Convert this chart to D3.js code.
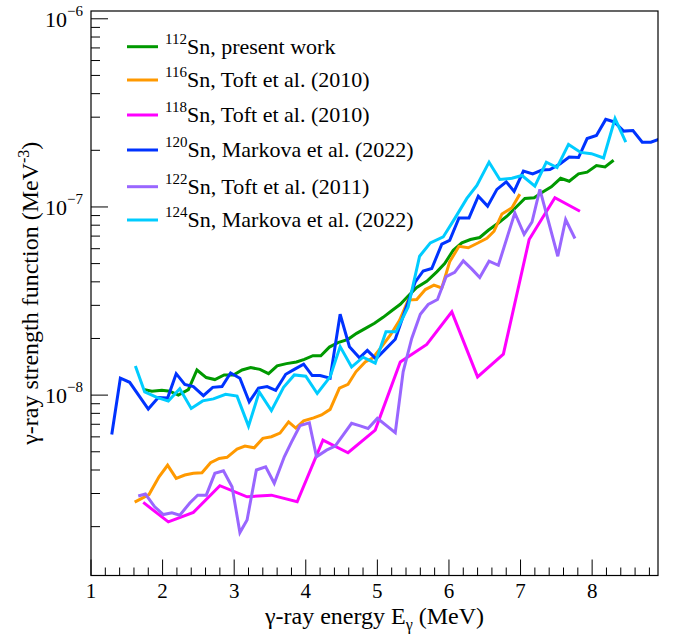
<!DOCTYPE html>
<html><head><meta charset="utf-8">
<script src="https://cdn.jsdelivr.net/npm/d3@7"></script>
<style>
html,body{margin:0;padding:0;background:#fff;}
</style></head>
<body><div id="chart"></div>
<script>
// ---- data (strength values in units of 1e-8 MeV^-3) ----
const unit = 1e-8;
const e112 = [1.75,1.85,1.99,2.10,2.22,2.36,2.48,2.61,2.73,2.86,2.99,3.11,3.23,3.36,3.48,3.60,3.73,3.87,3.98,4.10,4.21,4.33,4.45,4.59,4.71,4.84,4.96,5.08,5.20,5.32,5.43,5.55,5.69,5.83,5.94,6.06,6.18,6.30,6.43,6.55,6.69,6.81,6.94,7.06,7.19,7.31,7.43,7.56,7.68,7.81,7.93,8.06,8.18,8.30];
const f112 = [1.07,1.05,1.06,1.05,1.00,1.07,1.36,1.24,1.21,1.28,1.28,1.36,1.40,1.37,1.30,1.43,1.47,1.50,1.55,1.62,1.62,1.80,1.90,1.98,2.13,2.27,2.41,2.59,2.81,3.04,3.36,3.73,4.03,4.52,5.00,5.89,6.44,6.71,6.88,7.52,8.22,8.93,10.0,11.1,11.2,12.0,12.8,14.2,13.7,15.0,15.3,16.6,16.3,17.7];

const e116 = [1.61,1.81,1.95,2.07,2.19,2.31,2.43,2.55,2.67,2.79,2.90,3.04,3.15,3.28,3.40,3.52,3.64,3.76,3.86,3.97,4.11,4.22,4.34,4.47,4.59,4.70,4.83,4.94,5.06,5.18,5.31,5.43,5.55,5.67,5.79,5.90,6.01,6.14,6.27,6.41,6.53,6.63,6.74,6.88,6.99];
const f116 = [0.270,0.296,0.368,0.424,0.361,0.376,0.384,0.387,0.437,0.461,0.467,0.517,0.536,0.525,0.589,0.601,0.628,0.721,0.668,0.730,0.757,0.785,0.840,1.09,1.14,1.33,1.50,1.58,1.81,2.08,2.50,3.20,3.22,3.64,3.84,3.71,5.11,6.18,6.07,6.45,6.82,7.43,9.18,9.91,11.7];

const e118 = [1.73,2.08,2.43,2.80,3.18,3.52,3.88,4.24,4.59,4.97,5.32,5.69,6.04,6.40,6.76,7.12,7.48,7.83];
const f118 = [0.269,0.212,0.238,0.330,0.288,0.294,0.271,0.577,0.494,0.652,1.50,1.86,2.77,1.25,1.65,6.71,11.2,9.49];

const e120 = [1.29,1.41,1.54,1.80,1.94,2.07,2.19,2.31,2.43,2.57,2.70,2.83,2.95,3.08,3.21,3.34,3.46,3.58,3.72,3.84,3.97,4.09,4.20,4.34,4.48,4.61,4.75,4.86,4.98,5.11,5.25,5.39,5.53,5.64,5.76,5.90,6.01,6.14,6.28,6.41,6.54,6.67,6.80,6.91,7.04,7.17,7.30,7.41,7.55,7.68,7.81,7.93,8.06,8.19,8.31,8.44,8.57,8.70,8.82,8.95];
const f120 = [0.618,1.23,1.17,0.843,0.970,0.964,1.30,1.14,1.11,0.994,1.10,1.11,1.31,1.23,0.921,1.09,1.11,1.06,1.29,1.37,1.46,1.27,1.27,1.23,2.69,1.81,1.58,1.73,1.56,1.75,1.98,2.83,4.00,4.57,4.71,6.34,6.65,8.74,8.74,11.4,10.1,12.4,13.6,12.1,15.5,15.0,15.7,15.8,16.9,18.4,18.3,23.1,24.0,29.2,28.3,25.3,25.5,22.1,22.1,23.0];

const e122 = [1.66,1.76,1.89,2.01,2.13,2.24,2.38,2.49,2.61,2.73,2.85,2.97,3.08,3.18,3.31,3.44,3.56,3.70,3.80,3.92,4.05,4.15,4.29,4.41,4.64,4.76,4.87,5.00,5.25,5.36,5.48,5.60,5.71,5.84,5.96,6.08,6.20,6.32,6.43,6.56,6.69,6.92,7.05,7.16,7.27,7.52,7.63,7.76];
const f122 = [0.291,0.298,0.255,0.232,0.237,0.230,0.267,0.294,0.294,0.384,0.396,0.326,0.186,0.217,0.400,0.416,0.340,0.470,0.562,0.689,0.712,0.470,0.510,0.536,0.708,0.686,0.665,0.752,0.631,1.33,2.00,2.69,3.03,3.22,4.26,4.49,5.17,4.67,4.22,5.15,4.90,9.29,7.16,8.32,12.4,5.47,8.57,6.80];

const e124 = [1.62,1.75,1.92,2.08,2.24,2.40,2.56,2.71,2.88,3.04,3.20,3.35,3.52,3.69,3.84,4.00,4.16,4.34,4.48,4.64,4.80,4.97,5.12,5.26,5.43,5.59,5.74,5.92,6.08,6.25,6.39,6.56,6.71,6.88,7.02,7.20,7.36,7.51,7.67,7.84,7.99,8.16,8.32,8.47];
const f124 = [1.43,1.04,0.972,0.929,1.08,0.850,0.932,0.955,1.01,0.988,0.684,1.04,0.827,1.10,1.28,1.26,1.02,1.25,1.81,1.41,1.59,1.48,2.17,2.17,2.94,5.47,6.44,6.93,8.67,11.1,13.0,17.3,14.0,14.2,14.7,12.9,17.3,16.2,21.5,19.5,19.2,18.2,29.5,22.1];

const massNumbers = ["112","116","118","120","122","124"];
const legendTexts = ["Sn, present work","Sn, Toft et al. (2010)","Sn, Toft et al. (2010)","Sn, Markova et al. (2022)","Sn, Toft et al. (2011)","Sn, Markova et al. (2022)"];
const colors = ["#009900","#ff9900","#ff00ff","#0033ff","#9966ff","#00ccff"];
const energies = [e112,e116,e118,e120,e122,e124];
const strengths = [f112,f116,f118,f120,f122,f124];
const xTicks = [1,2,3,4,5,6,7,8];
const yMajor = [1e-8,1e-7,1e-6];
const yLabelExp = ["−8","−7","−6"];

// ---- layout ----
const W = 678, H = 635;
const L = 91, R = 658, T = 11, B = 575.5;
const FONT = "'Liberation Serif','Times New Roman','DejaVu Serif',serif";
const svg = d3.select("#chart").append("svg").attr("width",W).attr("height",H)
  .attr("font-family",FONT).style("font-family",FONT).style("background","#fff");

const x = d3.scaleLinear().domain([1, 8.92]).range([L, R]);
const y = d3.scaleLog().domain([1.1e-9, 1.1e-6]).range([B, T]);

svg.append("defs").append("clipPath").attr("id","clip")
  .append("rect").attr("x",L).attr("y",T).attr("width",R-L).attr("height",B-T);

// series
const line = d3.line().x(d=>x(d[0])).y(d=>y(d[1]*unit));
const gLines = svg.append("g").attr("clip-path","url(#clip)");
energies.forEach((es,i)=>{
  const pts = es.map((e,j)=>[e, strengths[i][j]]);
  gLines.append("path").datum(pts).attr("d",line)
    .attr("fill","none").attr("stroke",colors[i]).attr("stroke-width",3)
    .attr("stroke-linejoin","miter");
});

// frame
svg.append("rect").attr("x",L).attr("y",T).attr("width",R-L).attr("height",B-T)
  .attr("fill","none").attr("stroke","#000").attr("stroke-width",1.2);

// x axis ticks
const xMinor = d3.range(1, 8.921, 0.2);
const gx = svg.append("g");
xMinor.forEach(v=>{
  const isMajor = Math.abs(v-Math.round(v))<1e-6;
  gx.append("line").attr("x1",x(v)).attr("x2",x(v)).attr("y1",B).attr("y2",B-(isMajor?16:8))
    .attr("stroke","#000").attr("stroke-width",1);
});
xTicks.forEach(v=>{
  gx.append("text").attr("x",x(v)).attr("y",598).attr("text-anchor","middle")
    .attr("font-size",21).text(v);
});

// y axis ticks
const gy = svg.append("g");
const yMinor = [];
[1e-9,1e-8,1e-7,1e-6].forEach(dec=>{ for(let k=1;k<=9;k++){ const v=k*dec; if(v>=1.1e-9 && v<=1.1e-6) yMinor.push([v,k===1]); }});
yMinor.forEach(([v,isMajor])=>{
  gy.append("line").attr("x1",L).attr("x2",L+(isMajor?17:9)).attr("y1",y(v)).attr("y2",y(v))
    .attr("stroke","#000").attr("stroke-width",1);
});
yMajor.forEach((v,i)=>{
  const t = gy.append("text").attr("x",83).attr("y",y(v)+8).attr("text-anchor","end").attr("font-size",22);
  t.append("tspan").text("10");
  t.append("tspan").attr("font-size",15).attr("dy",-11).text(yLabelExp[i]);
});

// axis titles
const xt = svg.append("text").attr("x",(L+R)/2).attr("y",624).attr("text-anchor","middle").attr("font-size",24);
xt.append("tspan").text("γ-ray energy E");
xt.append("tspan").attr("font-size",16).attr("dy",6).text("γ");
xt.append("tspan").attr("dy",-6).text(" (MeV)");

const yt = svg.append("text").attr("transform",`translate(38,${(T+B)/2}) rotate(-90)`)
  .attr("text-anchor","middle").attr("font-size",24);
yt.append("tspan").text("γ-ray strength function (MeV");
yt.append("tspan").attr("font-size",16).attr("dy",-9).text("-3");
yt.append("tspan").attr("dy",9).text(")");

// legend
const legendY = [46.7,80,115,150,186.7,220];
const gl = svg.append("g");
massNumbers.forEach((m,i)=>{
  gl.append("line").attr("x1",127).attr("x2",158).attr("y1",legendY[i]).attr("y2",legendY[i])
    .attr("stroke",colors[i]).attr("stroke-width",3);
  const t = gl.append("text").attr("x",165).attr("y",legendY[i]+7).attr("font-size",22);
  t.append("tspan").attr("font-size",15).attr("dy",-10).text(m);
  t.append("tspan").attr("dy",10).text(legendTexts[i]);
});
</script>
</body></html>
